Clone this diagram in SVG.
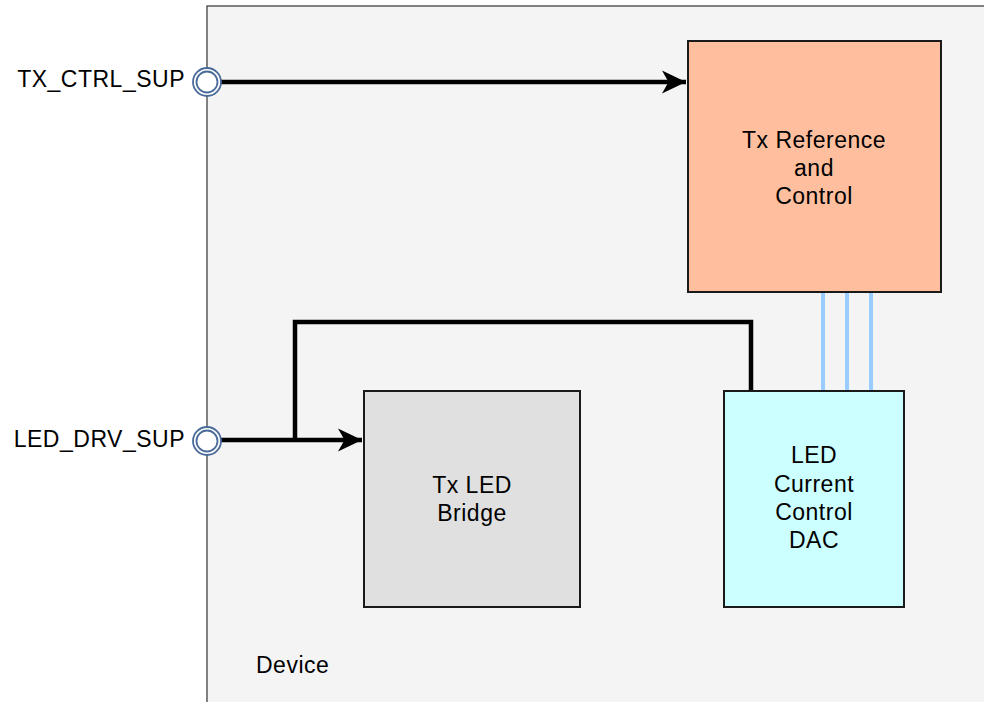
<svg xmlns="http://www.w3.org/2000/svg" width="984" height="702" viewBox="0 0 984 702">
<style>
text{font-family:"Liberation Sans",Arial,Helvetica,sans-serif;font-size:23px;fill:#000;letter-spacing:0.5px}
.c{text-anchor:middle}
.r{text-anchor:end}
.box{stroke:#1a1a1a;stroke-width:2}
.wire{fill:none;stroke:#000;stroke-width:4.5}
.bus{fill:none;stroke:#99ccff;stroke-width:4}
.port{fill:#fff;stroke:#4a6b9a;stroke-width:1.8}
</style>
<defs>
<marker id="arr" markerUnits="userSpaceOnUse" markerWidth="28" markerHeight="28" viewBox="0 0 28 28" refX="26" refY="14" orient="auto">
<path d="M26,14 L2,2.5 L8.5,14 L2,25.5 Z" fill="#000"/>
</marker>
</defs>
<g id="device">
<rect x="207" y="6" width="790" height="710" fill="#f4f4f4" stroke="#333" stroke-width="1.2"/>
<text x="256" y="673">Device</text>
</g>
<g id="txref">
<rect class="box" x="688" y="41" width="253" height="251" fill="#ffbf9f"/>
<text class="c" x="814" y="148">Tx Reference</text>
<text class="c" x="814" y="176">and</text>
<text class="c" x="814" y="204">Control</text>
</g>
<g id="bridge">
<rect class="box" x="364" y="391" width="216" height="216" fill="#e0e0e0"/>
<text class="c" x="472" y="493">Tx LED</text>
<text class="c" x="472" y="521">Bridge</text>
</g>
<g id="dac">
<rect class="box" x="724" y="391" width="180" height="216" fill="#ccffff"/>
<text class="c" x="814" y="463">LED</text>
<text class="c" x="814" y="492">Current</text>
<text class="c" x="814" y="520">Control</text>
<text class="c" x="814" y="548">DAC</text>
</g>
<g id="connectors">
<line class="bus" x1="823" y1="293" x2="823" y2="390"/>
<line class="bus" x1="847" y1="293" x2="847" y2="390"/>
<line class="bus" x1="871" y1="293" x2="871" y2="390"/>
<path class="wire" d="M221,82 H686" marker-end="url(#arr)"/>
<path class="wire" d="M221,440 H362" marker-end="url(#arr)"/>
<path class="wire" d="M295,440 V322 H751 V390"/>
</g>
<g id="port_tx">
<circle class="port" cx="207" cy="82" r="14"/>
<circle class="port" cx="207" cy="82" r="10.5"/>
<text class="r" x="185" y="87">TX_CTRL_SUP</text>
</g>
<g id="port_led">
<circle class="port" cx="207" cy="441" r="14"/>
<circle class="port" cx="207" cy="441" r="10.5"/>
<text class="r" x="185" y="447">LED_DRV_SUP</text>
</g>
</svg>
